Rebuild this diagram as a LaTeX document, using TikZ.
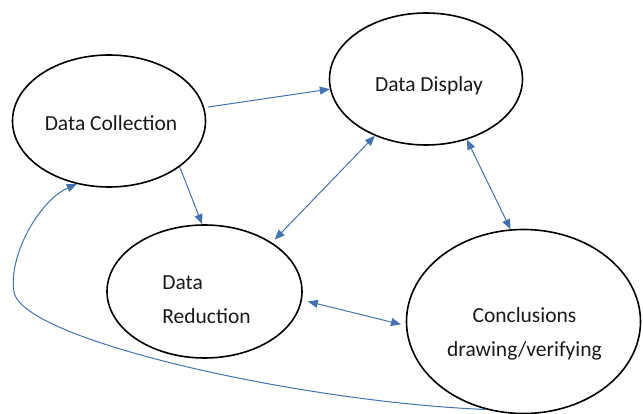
\documentclass[tikz,border=0pt]{standalone}
\usepackage{fontspec}
\setmainfont{Carlito}
\usepackage{tikz}
\usetikzlibrary{shapes.geometric,arrows.meta}
\definecolor{steelblue}{RGB}{68,114,176}
\colorlet{accent}{steelblue}
\tikzset{
  stage/.style={draw, ellipse, line width=1.6pt, inner sep=0pt},
  caption/.style={font=\fontsize{21.5}{34}\selectfont, align=center, text=black!90},
  flow/.style={accent, line width=1pt, -{Triangle[length=10pt,width=8pt]}},
  twoway/.style={flow, {Triangle[length=10pt,width=8pt]}-{Triangle[length=10pt,width=8pt]}}
}

\begin{document}
\begin{tikzpicture}[x=1pt, y=-1pt]
  \useasboundingbox (0,0) rectangle (643,414);
  \node[stage, minimum width=193pt, minimum height=132pt] (coll) at (109,121) {};
  \node[stage, minimum width=193pt, minimum height=132pt] (disp) at (426,79) {};
  \node[stage, minimum width=195pt, minimum height=133pt] (red) at (204.5,291.5) {};
  \node[stage, minimum width=234pt, minimum height=184pt] (concl) at (523.5,321.5) {};
  \node[caption] (coll-t) at ([xshift=2pt, yshift=-2pt]coll) {Data Collection};
  \node[caption] (disp-t) at ([xshift=3pt, yshift=-7pt]disp) {Data Display};
  \node[caption, align=left] (red-t) at ([xshift=2pt, yshift=-8pt]red) {Data\\Reduction};
  \node[caption] (concl-t) at ([xshift=1pt, yshift=-12pt]concl) {Conclusions\\drawing/verifying};
  \coordinate (loop) at (14,292);
  \draw[flow, shorten <=4pt] (coll.8) -- (disp.186);
  \draw[flow] (coll.-33) -- (red.92);
  \draw[twoway, shorten >=4pt] (disp.228) -- (red.36);
  \draw[twoway] (disp.-56) -- (concl.98);
  \draw[twoway, shorten <=6pt, shorten >=5pt] (red.-5) -- (concl.182);
  \draw[flow] (concl.247) .. controls (300,402) and (22,340) .. (loop)
    .. controls (8,255) and (40,200) .. (coll.243);
\end{tikzpicture}
\end{document}
